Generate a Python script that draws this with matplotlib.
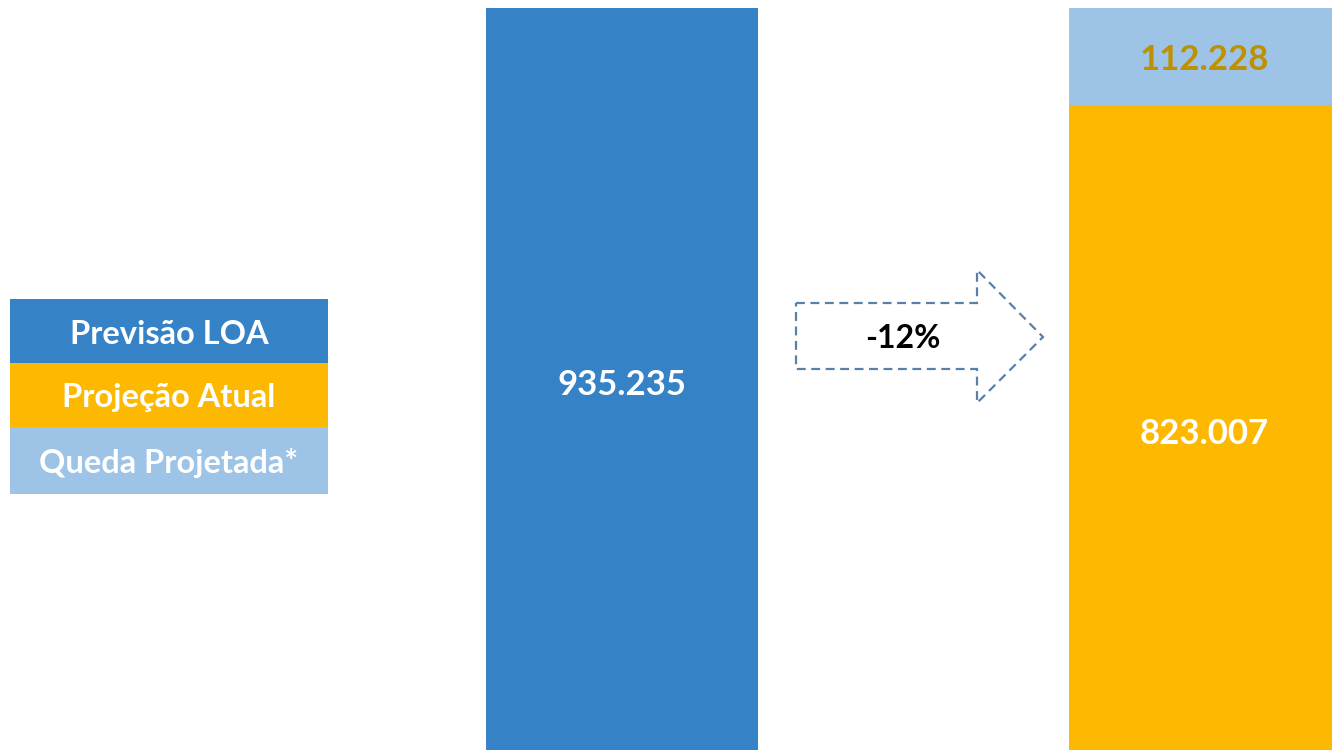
import matplotlib.pyplot as plt
from matplotlib.patches import Rectangle, Polygon

# data
categorias = ['Previsão LOA', 'Projeção Atual']
previsao_loa = [935.235, 0]
projecao_atual = [0, 823.007]
queda_projetada = [0, 112.228]
legenda = ['Previsão LOA', 'Projeção Atual', 'Queda Projetada*']
variacao = '-12%'

azul = '#3582C7'
laranja = '#FDB902'
azul_claro = '#9DC3E6'
fonte = ['Lato', 'DejaVu Sans']

def fmt(v):
    return f'{v:.3f}'

fig = plt.figure(figsize=(13.32, 7.5), dpi=100)
ax = fig.add_axes([0, 0, 1, 1])
x = [0, 1]
w = 0.467
ax.bar(x[0], previsao_loa[0], width=w, color=azul)
ax.bar(x[1], projecao_atual[1], width=w, color=laranja)
ax.bar(x[1], queda_projetada[1], width=w, bottom=projecao_atual[1], color=azul_claro)
ax.set_xlim(-1.068, 1.2187)
ax.set_ylim(76.7, 944.5)
ax.axis('off')

# value labels
ax.text(x[0], 499, fmt(previsao_loa[0]), ha='center', va='center', color='white',
        fontsize=25, fontweight='bold', family=fonte)
ax.text(x[1], 442.5, fmt(projecao_atual[1]), ha='center', va='center', color='white',
        fontsize=25, fontweight='bold', family=fonte)
ax.text(x[1], 875, fmt(queda_projetada[1]),
        ha='center', va='center', color='#BF9000', fontsize=25, fontweight='bold', family=fonte)

# overlay in pixel coordinates for legend boxes and arrow
ov = fig.add_axes([0, 0, 1, 1])
ov.set_xlim(0, 1332)
ov.set_ylim(750, 0)
ov.axis('off')
ov.patch.set_alpha(0)

cores = [azul, laranja, azul_claro]
topos = [299, 363, 427]
alturas = [64, 64, 67]
for nome, cor, t, h in zip(legenda, cores, topos, alturas):
    ov.add_patch(Rectangle((10, t), 318, h, color=cor, lw=0))
    ov.text(169, t + h / 2 + 3, nome, ha='center', va='center', color='white',
            fontsize=23.5, fontweight='bold', family=fonte)

seta = [(796, 303), (977, 303), (977, 270), (1043, 337), (977, 403), (977, 369), (796, 369)]
ov.add_patch(Polygon(seta, closed=True, fill=False, edgecolor='#5B80A8', lw=1.6,
                     linestyle=(0, (4, 2.5))))
ov.text(903, 339, variacao, ha='center', va='center', color='black',
        fontsize=23, fontweight='bold', family=fonte)

fig.savefig('out.png', dpi=100)
